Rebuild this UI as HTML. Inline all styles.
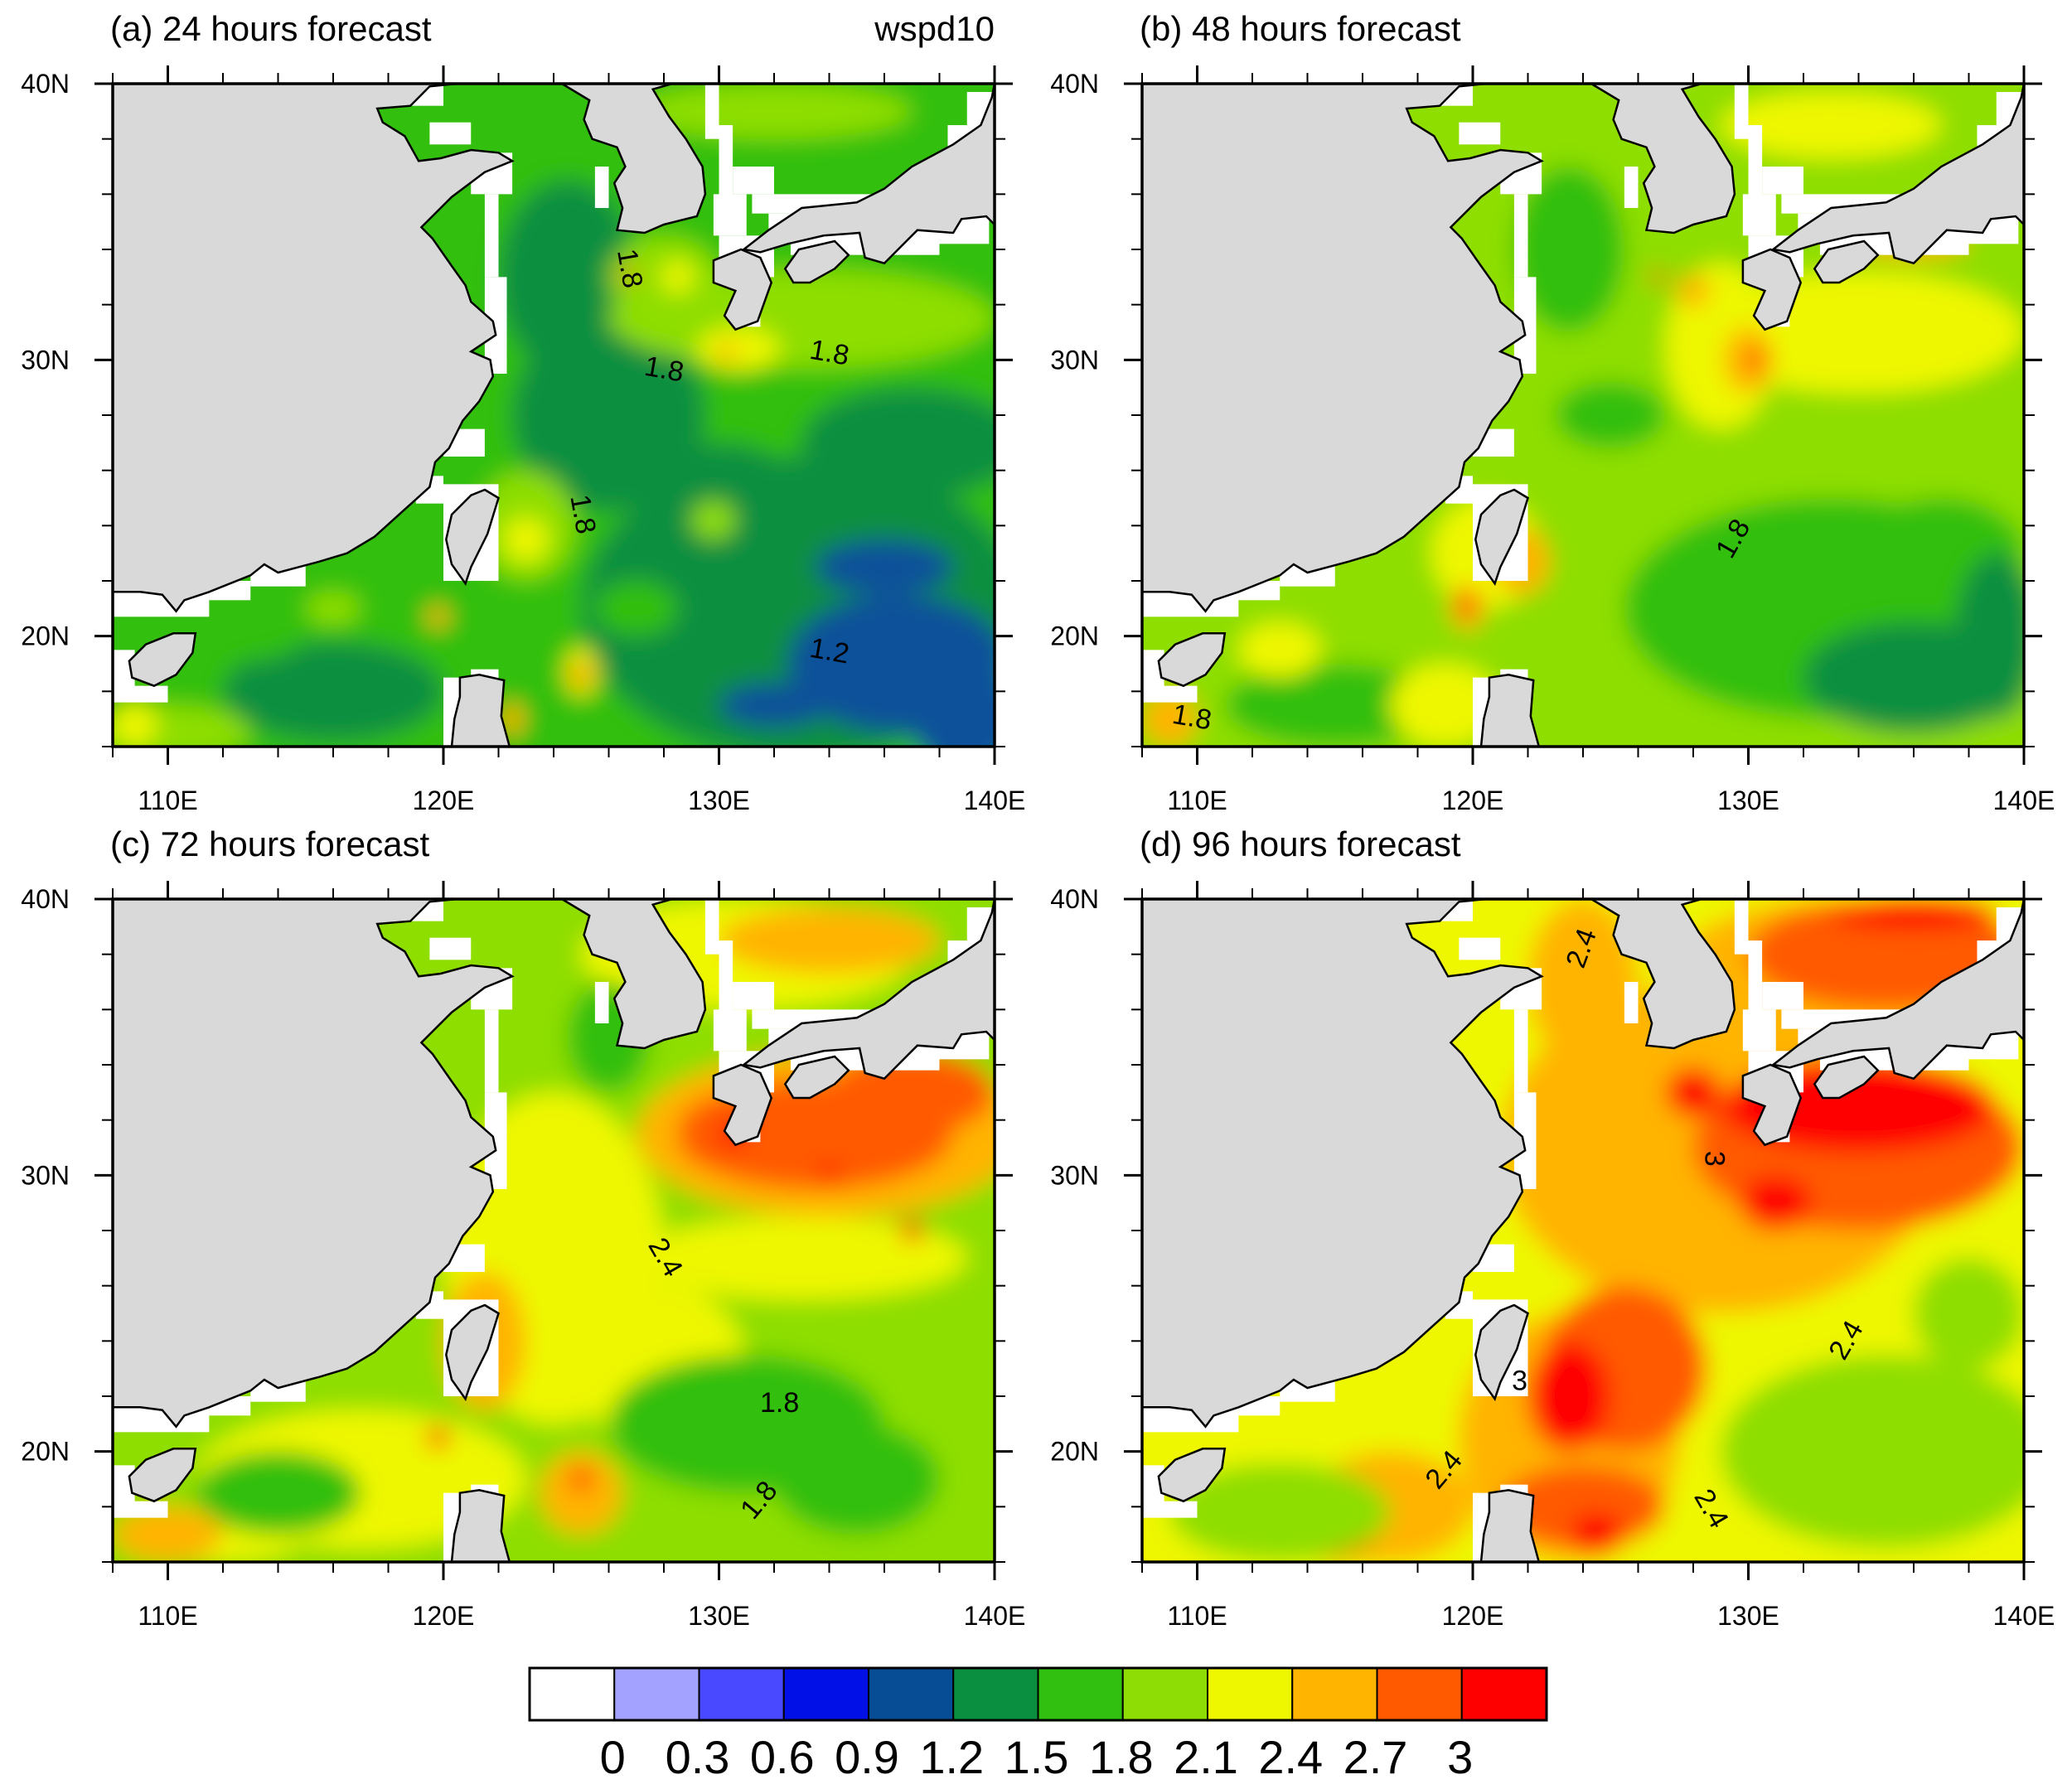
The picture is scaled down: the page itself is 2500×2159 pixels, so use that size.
<!DOCTYPE html>
<html><head><meta charset="utf-8">
<style>
html,body{margin:0;padding:0;background:#fff;}
svg{display:block;}
text{font-family:"Liberation Sans",Arial,sans-serif;fill:#000;}
</style></head>
<body>
<svg id="s" width="2500" height="2159" viewBox="0 0 2500 2159" xmlns="http://www.w3.org/2000/svg">
<defs>
<filter id="bl" x="-20%" y="-20%" width="140%" height="140%"><feGaussianBlur stdDeviation="14"/></filter>
</defs>
</svg>
<script>
const S=document.getElementById('s');
const NS='http://www.w3.org/2000/svg';
const W=1064,H=800,kx=W/32,ky=H/24;
const G='#0a8f40',g='#31bf10',lg='#8ede06',Y='#eef700',O='#ffb400',R='#ff5a00',RR='#ff0000',B='#08519a';
const panels=[
 {x:136,y:101,t:'(a) 24 hours forecast',r:'wspd10',base:g,blobs:[
  [G,133,21,8,5.5],[G,126,28,3.5,3.5],[G,124.5,33,2.5,3.5],[G,116,18,4,1.8],[G,137,27,4,2],[G,130,25,3,2],
  [g,121.5,23,2,3],[g,112,20,3,1],[g,127,21,1.5,1],
  [lg,133,31.5,7,1.8],[lg,128,33,2,1.5],[lg,110,16.5,3,1],[lg,123,24,1.8,2],[lg,116,21,1,0.6],[lg,129.8,24.2,0.8,0.7],[lg,132,39,5,1],
  [B,136.5,19,4,2.5],[B,139,17,2,2],[B,132,17.5,2,0.8],[B,136,22.5,2.5,1],
  [Y,130.7,30.4,1.5,0.8],[Y,123,23.5,0.8,0.8],[Y,108.8,16.8,0.8,0.8],[Y,125,18.7,0.6,0.9],[O,122.5,17,0.4,0.6],[Y,128.5,33,0.6,0.6],
  [RR,130.3,30.3,0.25,0.25],[RR,126.7,33.1,0.25,0.25],[RR,125,18.6,0.3,0.35],[O,119.8,20.7,0.4,0.4]]},
 {x:1378,y:101,t:'(b) 48 hours forecast',r:'',base:lg,blobs:[
  [g,133,21,7.5,4],[g,115,17.5,4,1.5],[g,123.5,34,2,3],[g,125,28,2,1.2],[g,137,23,3,2],
  [G,136,18.5,4,2],[G,139,20,1.5,3],
  [Y,134,31,6,2.2],[Y,129,30.5,2,3],[Y,120.5,23,2,2],[Y,119,17.5,2,1.5],[Y,113,19.5,1.5,1],[Y,133,38.5,4,1.2],
  [O,130,30,0.9,1.2],[O,121.8,22.7,1,1.2],[O,136,34.2,2,0.5],[O,109,17,1,1],[O,128,32.5,0.6,0.6],[O,119.8,21,0.6,0.8],
  [RR,130.3,30,0.3,0.4],[RR,126.7,33,0.25,0.25],[RR,119.8,21.2,0.3,0.5]]},
 {x:136,y:1085,t:'(c) 72 hours forecast',r:'',base:lg,blobs:[
  [Y,124,27,4,6],[Y,117,19,6,2.5],[Y,128,23,3,3],[Y,133,27,6,1.5],[Y,131,38,6,2],[Y,112,17,3,1],
  [g,131,21,5,2.5],[g,135,19,3,2],[g,114,18.5,3,1.5],[g,126,35,1.5,2],
  [O,134,31.5,7,3],[O,121.5,24,1.5,2.5],[O,125,18.5,1.5,1.5],[O,110,17,2,1],[O,134,38.5,4,1.2],
  [R,133.5,31.5,5,2],[R,137,33,3,1.5],[R,130,31.5,1.5,1.3],
  [RR,130.5,31.5,0.5,0.5],[RR,134,30,0.4,0.4],[RR,137,28,0.4,0.4],[RR,119.8,20.5,0.4,0.4],[RR,125,19,0.4,0.4]]},
 {x:1378,y:1085,t:'(d) 96 hours forecast',r:'',base:Y,blobs:[
  [O,129,31,8,6],[O,123.5,20.5,4,4.5],[O,117,18,3,2],[O,124,37,2,3],[O,133,37,6,3],
  [R,134,31,6,3],[R,135,38,5,2],[R,125.5,23,3,3],[R,124,18,3,1.5],[R,115,17,1.5,1],
  [RR,134,32.5,5,1.7],[RR,128,33,1,0.9],[RR,123.5,22,1.5,2],[RR,131,29,1.3,1],[RR,124.5,17,1,0.8],[RR,136,39.5,3,0.6],
  [lg,135,20,6,3.5],[lg,113,17.8,4,1.8],[lg,138,25,2,2]]}
];
function el(t,a,p){const e=document.createElementNS(NS,t);for(const k in a)e.setAttribute(k,a[k]);(p||S).appendChild(e);return e;}
function pts(arr,x0,y0){return arr.map(p=>((x0+(p[0]-108)*kx).toFixed(1)+','+(y0+(40-p[1])*ky).toFixed(1))).join(' ');}
const china=[[108,40],[108,21.6],[109,21.6],[109.8,21.5],[110.3,20.9],[110.6,21.3],[111.5,21.6],[113,22.2],[113.5,22.6],[114,22.3],[115.5,22.7],[116.5,23],[117.5,23.6],[118.5,24.5],[119.5,25.4],[119.7,26.3],[120.2,26.8],[120.7,27.8],[121.3,28.5],[121.8,29.4],[121.7,30],[121,30.3],[121.9,30.9],[121.8,31.4],[121,32.1],[120.8,32.7],[120.3,33.4],[119.6,34.4],[119.2,34.8],[120.3,35.9],[121.5,36.8],[122.5,37.2],[122,37.5],[121,37.6],[119.9,37.3],[119.1,37.2],[118.6,38.1],[117.8,38.6],[117.6,39.1],[118.8,39.2],[119.5,39.9],[120.5,40]];
const korea=[[124.3,40],[124.8,39.7],[125.3,39.4],[125.1,38.7],[125.4,38],[126.3,37.7],[126.6,37],[126.2,36.4],[126.5,35.5],[126.3,34.7],[127.3,34.6],[128,34.9],[129.2,35.2],[129.5,36],[129.4,37],[128.8,38],[128.2,38.8],[127.6,39.8],[128.3,40]];
const kyushu=[[129.8,33.6],[130.8,34],[131.5,33.7],[131.9,32.8],[131.4,31.4],[130.6,31.1],[130.2,31.6],[130.6,32.5],[129.8,32.8]];
const honshu=[[130.9,34],[131.8,34.7],[133,35.5],[135,35.7],[136,36.2],[137,37],[138.5,37.8],[139.5,38.5],[139.9,39.5],[140,40],[140,34.9],[139.7,35.2],[138.8,35.1],[138.5,34.6],[137.2,34.7],[136.8,34.3],[136,33.5],[135.3,33.7],[135.1,34.6],[133.8,34.5],[132.5,34.2],[131.5,33.9]];
const shikoku=[[132.4,33.3],[132.9,34],[134.2,34.3],[134.7,33.8],[134.2,33.3],[133.3,32.8],[132.7,32.8]];
const taiwan=[[121.5,25.3],[122,25],[121.6,23.7],[121,22.5],[120.8,21.9],[120.3,22.6],[120.1,23.5],[120.3,24.4],[121,25.1]];
const luzon=[[120.6,18.5],[121.3,18.6],[122.2,18.4],[122.1,17.1],[122.4,16],[120.3,16],[120.4,17],[120.6,17.8]];
const hainan=[[108.6,19.1],[109.2,19.7],[110.2,20.1],[111,20.1],[110.9,19.4],[110.3,18.6],[109.5,18.2],[108.7,18.5]];
const whites=[[108,22.2,110,20.7],[108,19.5,108.8,18],[108,18.2,110,17.6],[110,21.6,111.5,20.7],[111.5,22,113,21.3],[113,22.6,115,21.8],[120,27.5,121.5,26.5],[119,25.8,120,24.8],[120,25.5,122,22],[120,18.5,122,16],[121,18.8,122,18],[121.5,33,122.3,29.5],[121.5,36,122,33],[121,37.5,122.5,36],[119.5,38.6,121,37.8],[118,40,120,39.2],[125.5,37,126,35.5],[129.5,40,130,38],[130,38.5,130.5,35.5],[130.5,37,132,36],[129.8,36,131,34.5],[130,34.5,132,33],[131,33.5,131.5,31.2],[131.2,36,139.8,35.3],[131.8,35.3,139.8,34.2],[132.6,34.7,138,33.8],[138.3,38.5,140,37.5],[139,39.7,140,38.5]];
panels.forEach((P,i)=>{
 const gclip='c'+i;
 const cp=el('clipPath',{id:gclip});el('rect',{x:P.x,y:P.y,width:W,height:H},cp);
 const grp=el('g',{'clip-path':'url(#'+gclip+')'});
 el('rect',{x:P.x,y:P.y,width:W,height:H,fill:P.base},grp);
 const bg=el('g',{filter:'url(#bl)'},grp);
 el('rect',{x:P.x-60,y:P.y-60,width:W+120,height:H+120,fill:P.base},bg);
 const inner=el('g',{transform:`translate(${P.x-108*kx},${P.y+40*ky}) scale(${kx},${-ky})`},bg);
 P.blobs.forEach(b=>el('ellipse',{cx:b[1],cy:b[2],rx:b[3],ry:b[4],fill:b[0]},inner));
 whites.forEach(w=>el('rect',{x:P.x+(w[0]-108)*kx,y:P.y+(40-w[1])*ky,width:(w[2]-w[0])*kx,height:(w[1]-w[3])*ky,fill:'#fff'},grp));
 [china,korea,kyushu,honshu,shikoku,taiwan,luzon,hainan].forEach(poly=>el('polygon',{points:pts(poly,P.x,P.y),fill:'#d9d9d9',stroke:'#000','stroke-width':2.5},grp));
 el('rect',{x:P.x,y:P.y,width:W,height:H,fill:'none',stroke:'#000','stroke-width':3.5});
 for(let lon=108;lon<=140;lon+=2){const x=P.x+(lon-108)*kx;const maj=lon%10==0;
  el('line',{x1:x,y1:P.y-(maj?22:13),x2:x,y2:P.y,stroke:'#000','stroke-width':maj?3:2});
  el('line',{x1:x,y1:P.y+H,x2:x,y2:P.y+H+(maj?22:13),stroke:'#000','stroke-width':maj?3:2});
  if(maj){const tx=el('text',{x:x,y:P.y+H+76,'font-size':32,'text-anchor':'middle'});tx.textContent=lon+'E';}}
 for(let lat=16;lat<=40;lat+=2){const y=P.y+(40-lat)*ky;const maj=lat%10==0;
  el('line',{x1:P.x-(maj?22:13),y1:y,x2:P.x,y2:y,stroke:'#000','stroke-width':maj?3:2});
  el('line',{x1:P.x+W,y1:y,x2:P.x+W+(maj?22:13),y2:y,stroke:'#000','stroke-width':maj?3:2});
  if(maj){const tx=el('text',{x:P.x-52,y:y+11,'font-size':32,'text-anchor':'end'});tx.textContent=lat+'N';}}
 const t=el('text',{x:P.x-3,y:P.y-52,'font-size':42});t.textContent=P.t;
 if(P.r){const r=el('text',{x:P.x+W,y:P.y-52,'font-size':42,'text-anchor':'end'});r.textContent=P.r;}
});
[[0,126.7,33.3,'1.8',80],[0,128,29.6,'1.8',10],[0,134,30.2,'1.8',10],[0,125,24.4,'1.8',80],[0,134,19.4,'1.2',10],
 [1,129.5,23.5,'1.8',-60],[1,109.8,17,'1.8',10],
 [2,128,27,'2.4',60],[2,132.2,21.7,'1.8',0],[2,131.5,18.2,'1.8',-50],
 [3,124,38.2,'2.4',-70],[3,128.7,30.6,'3',90],[3,133.6,24,'2.4',-60],[3,121.7,22.5,'3',0],[3,119,19.3,'2.4',-50],[3,128.6,17.9,'2.4',60]
].forEach(c=>{const P=panels[c[0]];const x=P.x+(c[1]-108)*kx,y=P.y+(40-c[2])*ky;
 const t=el('text',{x:x,y:y,'font-size':34,'text-anchor':'middle','dominant-baseline':'middle',transform:`rotate(${c[4]} ${x} ${y})`});t.textContent=c[3];});
const cols=['#ffffff','#a3a3ff','#4949ff','#0010e6','#064d96','#0a8f40','#31bf10','#8ede06','#eef700','#ffb400','#ff5a00','#ff0000'];
const bx=639,bw=1227/12,by=2013,bh=63;
cols.forEach((c,i)=>el('rect',{x:bx+i*bw,y:by,width:bw,height:bh,fill:c,stroke:'#000','stroke-width':2}));
el('rect',{x:bx,y:by,width:bw*12,height:bh,fill:'none',stroke:'#000','stroke-width':3});
['0','0.3','0.6','0.9','1.2','1.5','1.8','2.1','2.4','2.7','3'].forEach((l,i)=>{const t=el('text',{x:bx+(i+1)*bw-2,y:2140,'font-size':56,'text-anchor':'middle'});t.textContent=l;});
</script>
</body></html>
